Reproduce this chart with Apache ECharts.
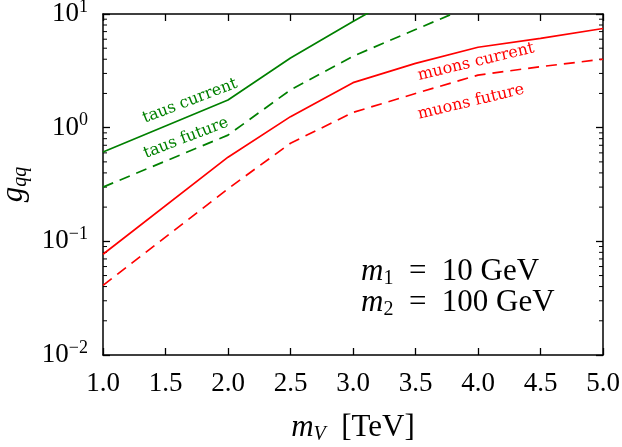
<!DOCTYPE html>
<html>
<head>
<meta charset="utf-8">
<script src="https://cdn.jsdelivr.net/npm/echarts@6/dist/echarts.min.js"></script>
<style>
  html, body { margin: 0; padding: 0; background: #fff; }
  #chart { width: 622px; height: 447px; }
</style>
</head>
<body>
<div id="chart"></div>
<script>
// mV [TeV] and g_qq
var tausCurX = [1.0, 2.0, 2.5, 3.0, 3.5];
var tausCurY = [0.61, 1.75, 4.1, 8.6, 17.5];
var tausFutX = [1.0, 2.0, 2.5, 3.0, 3.5, 4.0];
var tausFutY = [0.30, 0.86, 2.15, 4.25, 7.3, 12.5];
var muCurX = [1.0, 2.0, 2.5, 3.0, 3.5, 4.0, 4.5, 5.0];
var muCurY = [0.077, 0.55, 1.25, 2.49, 3.68, 5.1, 6.1, 7.45];
var muFutX = [1.0, 2.0, 2.5, 3.0, 3.5, 4.0, 4.5, 5.0];
var muFutY = [0.041, 0.29, 0.73, 1.36, 2.0, 2.9, 3.44, 4.0];
var xTicks = [1.0, 1.5, 2.0, 2.5, 3.0, 3.5, 4.0, 4.5, 5.0];

var serif = 'Liberation Serif';
var GREEN = '#008000', RED = '#ff0000';

function pairs(xs, ys) {
    var out = [];
    for (var i = 0; i < xs.length; i++) out.push([xs[i], ys[i]]);
    return out;
}

var chart = echarts.init(document.getElementById('chart'));

var tickLine = { color: '#000', width: 1.3 };
var option = {
    animation: false,
    backgroundColor: '#fff',
    grid: { left: 103, right: 19, top: 14, bottom: 92, outerBoundsMode: 'none', containLabel: false },
    xAxis: [{
        type: 'value', min: 1, max: 5, interval: 0.5,
        name: '{i|m}{s|V}{r|  [TeV]}',
        nameLocation: 'middle', nameGap: 56,
        nameTextStyle: {
            rich: {
                i: { fontFamily: serif, fontStyle: 'italic', fontSize: 31, color: '#000' },
                s: { fontFamily: serif, fontStyle: 'italic', fontSize: 20, color: '#000', padding: [14, 0, 0, 0] },
                r: { fontFamily: serif, fontSize: 31, color: '#000' }
            }
        },
        axisLine: { lineStyle: { color: '#000', width: 1.5 } },
        axisTick: { inside: true, length: 7, lineStyle: tickLine, customValues: xTicks },
        axisLabel: {
            fontFamily: serif, fontSize: 27, color: '#000', margin: 15,
            customValues: xTicks,
            formatter: function (v) { return v.toFixed(1); }
        },
        splitLine: { show: false }
    }, {
        type: 'value', min: 1, max: 5, interval: 0.5, position: 'top',
        axisLine: { show: true, lineStyle: { color: '#000', width: 1.5 } },
        axisTick: { inside: true, length: 7, lineStyle: tickLine },
        axisLabel: { show: false },
        splitLine: { show: false }
    }],
    yAxis: [{
        type: 'log', logBase: 10, min: 0.01, max: 10,
        name: '{i|g}{s|qq}',
        nameLocation: 'middle', nameGap: 63, nameRotate: 90,
        nameTextStyle: {
            rich: {
                i: { fontFamily: serif, fontStyle: 'italic', fontSize: 31, color: '#000' },
                s: { fontFamily: serif, fontStyle: 'italic', fontSize: 20, color: '#000', padding: [14, 0, 0, 0] }
            }
        },
        axisLine: { show: true, lineStyle: { color: '#000', width: 1.5 } },
        axisTick: { inside: true, length: 7, lineStyle: tickLine },
        axisLabel: {
            margin: 15,
            formatter: function (v) {
                var e = Math.round(Math.log(v) / Math.LN10);
                return '{b|10}{e|' + (e < 0 ? '\u2212' + (-e) : e) + '}';
            },
            rich: {
                b: { fontFamily: serif, fontSize: 27, color: '#000' },
                e: { fontFamily: serif, fontSize: 18, color: '#000', padding: [0, 0, 14, 0] }
            }
        },
        splitLine: { show: false }
    }, {
        type: 'log', logBase: 10, min: 0.01, max: 10, position: 'right',
        axisLine: { show: true, lineStyle: { color: '#000', width: 1.5 } },
        axisTick: { inside: true, length: 7, lineStyle: tickLine },
        axisLabel: { show: false },
        splitLine: { show: false }
    }],
    series: [{
        name: 'taus current', type: 'line', data: pairs(tausCurX, tausCurY),
        showSymbol: false, clip: true,
        lineStyle: { color: GREEN, width: 1.7 }
    }, {
        name: 'taus future', type: 'line', data: pairs(tausFutX, tausFutY),
        showSymbol: false, clip: true,
        lineStyle: { color: GREEN, width: 1.7, type: [11, 7] }
    }, {
        name: 'muons current', type: 'line', data: pairs(muCurX, muCurY),
        showSymbol: false, clip: true,
        lineStyle: { color: RED, width: 1.7 }
    }, {
        name: 'muons future', type: 'line', data: pairs(muFutX, muFutY),
        showSymbol: false, clip: true,
        lineStyle: { color: RED, width: 1.7, type: [11, 7] }
    }]
};

chart.setOption(option);

// minor log ticks (2..9 per decade) on left and right, placed through the axis scale
var gl = chart.convertToPixel({ xAxisIndex: 0 }, 1);
var gr = chart.convertToPixel({ xAxisIndex: 0 }, 5);
var g = [];
[0.01, 0.1, 1].forEach(function (d) {
    for (var m = 2; m <= 9; m++) {
        var py = chart.convertToPixel({ yAxisIndex: 0 }, m * d);
        g.push({ type: 'line', shape: { x1: gl, y1: py, x2: gl + 4, y2: py }, style: { stroke: '#000', lineWidth: 1 }, silent: true });
        g.push({ type: 'line', shape: { x1: gr - 4, y1: py, x2: gr, y2: py }, style: { stroke: '#000', lineWidth: 1 }, silent: true });
    }
});

// curve labels
function label(txt, x, y, deg, color) {
    return {
        type: 'text', x: x, y: y, rotation: deg * Math.PI / 180, silent: true,
        style: { text: txt, fill: color, font: '16px "DejaVu Serif"', align: 'center', verticalAlign: 'middle' }
    };
}
g.push(label('taus current', 190, 101, 21, GREEN));
g.push(label('taus future', 186, 138, 21, GREEN));
g.push(label('muons current', 476, 62, 13.5, RED));
g.push(label('muons future', 471, 102, 13.5, RED));

// parameter box
var mRich = {
    i: { fontFamily: serif, fontStyle: 'italic', fontSize: 31, fill: '#000' },
    s: { fontFamily: serif, fontSize: 20, fill: '#000', padding: [14, 0, 0, 0] },
    r: { fontFamily: serif, fontSize: 31, fill: '#000' }
};
g.push({
    type: 'text', x: 361, y: 272, silent: true,
    style: { text: '{i|m}{s|1}{r|\u2002=\u200210 GeV}', rich: mRich, verticalAlign: 'middle' }
});
g.push({
    type: 'text', x: 361, y: 303, silent: true,
    style: { text: '{i|m}{s|2}{r|\u2002=\u2002100 GeV}', rich: mRich, verticalAlign: 'middle' }
});

chart.setOption({ graphic: g });
</script>
</body>
</html>
